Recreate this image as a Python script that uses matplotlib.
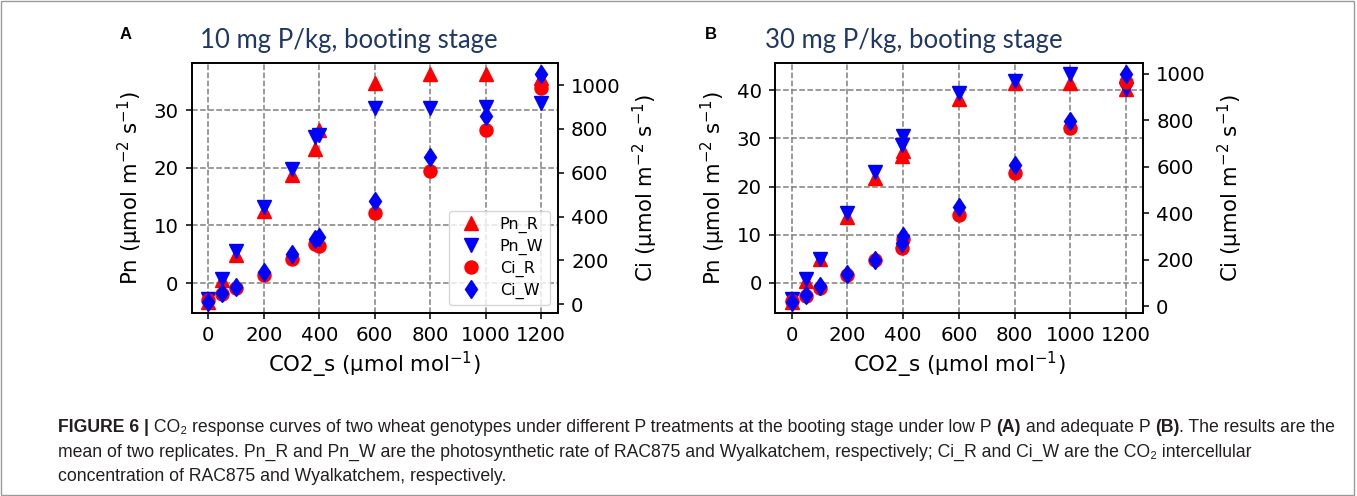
import matplotlib
matplotlib.use("Agg")
import matplotlib.pyplot as plt
from matplotlib import font_manager
from matplotlib.patches import Rectangle

# ---------------- DATA ----------------
co2_a = [0, 50, 100, 200, 300, 385, 400, 600, 800, 1000, 1200]
pn_r_a = [-3.2, 0.6, 4.8, 12.5, 18.8, 23.2, 26.5, 34.7, 36.2, 36.2, 35.5]
pn_w_a = [-2.8, 0.7, 5.5, 13.2, 19.8, 25.3, 25.7, 30.3, 30.3, 30.6, 31.2]
ci_r_a = [18, 46, 73, 134, 205, 274, 266, 418, 608, 795, 988]
ci_w_a = [12, 50, 80, 149, 228, 296, 305, 471, 673, 859, 1049]

co2_b = [0, 50, 100, 200, 300, 395, 400, 600, 800, 1000, 1200]
pn_r_b = [-3.9, 0.3, 5.0, 13.6, 21.7, 26.3, 27.3, 38.1, 41.6, 41.5, 40.2]
pn_w_b = [-3.4, 0.7, 4.9, 14.5, 23.1, 28.7, 30.5, 39.5, 42.0, 43.3, 40.3]
ci_r_b = [22, 46, 78, 136, 198, 250, 290, 392, 572, 767, 964]
ci_w_b = [20, 50, 85, 140, 200, 270, 300, 428, 608, 796, 997]

x_ticks = [0, 200, 400, 600, 800, 1000, 1200]
ci_ticks = [0, 200, 400, 600, 800, 1000]

titles = ["10 mg P/kg, booting stage", "30 mg P/kg, booting stage"]
panel_letters = ["A", "B"]

# ---------------- STYLE ----------------
FS_TICK = 14.2
FS_LABEL = 15.3
MS = 9.4
TITLE_COLOR = "#203864"
CAP_COLOR = "#231f20"

try:
    font_manager.findfont("Liberation Sans Narrow", fallback_to_default=False)
    CAP_FONT = "Liberation Sans Narrow"
except ValueError:
    CAP_FONT = "Liberation Sans"

plt.rcParams["font.family"] = ["DejaVu Sans"]
plt.rcParams["axes.linewidth"] = 1.2
plt.rcParams["xtick.major.width"] = 1.1
plt.rcParams["ytick.major.width"] = 1.1
plt.rcParams["xtick.major.size"] = 4.6
plt.rcParams["ytick.major.size"] = 4.6
plt.rcParams["xtick.major.pad"] = 4.5
plt.rcParams["ytick.major.pad"] = 5.0

fig = plt.figure(figsize=(13.57, 4.96), dpi=100)


def draw_panel(rect, co2, pn_r, pn_w, ci_r, ci_w, legend):
    ax = fig.add_axes(rect)
    ax.plot(co2, pn_r, "^", color="red", ms=MS, label="Pn_R")
    ax.plot(co2, pn_w, "v", color="blue", ms=MS, label="Pn_W")
    ax.grid(True, linestyle="--", color="gray", linewidth=1.1)
    ax.set_xticks(x_ticks)
    ax.tick_params(labelsize=FS_TICK)
    ax.set_xlabel("CO2_s (µmol mol$^{-1}$)", fontsize=FS_LABEL, labelpad=4)
    ax.set_ylabel("Pn (µmol m$^{-2}$ s$^{-1}$)", fontsize=FS_LABEL, labelpad=6)

    ax2 = ax.twinx()
    ax2.plot(co2, ci_r, "o", color="red", ms=MS, label="Ci_R")
    ax2.plot(co2, ci_w, "d", color="blue", ms=MS, label="Ci_W")
    ax2.set_yticks(ci_ticks)
    ax2.tick_params(labelsize=FS_TICK)
    ax2.set_ylabel("Ci (µmol m$^{-2}$ s$^{-1}$)", fontsize=FS_LABEL, labelpad=7)

    if legend:
        h1, l1 = ax.get_legend_handles_labels()
        h2, l2 = ax2.get_legend_handles_labels()
        ax2.legend(h1 + h2, l1 + l2, loc="lower right", fontsize=11.5, labelspacing=0.35)
    return ax


draw_panel([0.1413, 0.369, 0.2697, 0.504], co2_a, pn_r_a, pn_w_a, ci_r_a, ci_w_a, True)
draw_panel([0.5711, 0.369, 0.2711, 0.504], co2_b, pn_r_b, pn_w_b, ci_r_b, ci_w_b, False)

# titles + panel letters
for x_title, x_let, title, let in zip([0.1474, 0.5637], [0.0884, 0.5195], titles, panel_letters):
    fig.text(x_title, 0.903, title, fontsize=18.5, family="Lato", color=TITLE_COLOR, va="baseline")
    fig.text(x_let, 0.921, let, fontsize=12, family="Liberation Sans", fontweight="bold", va="baseline")

# ---------------- CAPTION ----------------
cap_lines = [
    [("FIGURE 6 |", True),
     (" CO\u2082 response curves of two wheat genotypes under different P treatments at the booting stage under low P ", False),
     ("(A)", True), (" and adequate P ", False), ("(B)", True), (". The results are the", False)],
    [("mean of two replicates. Pn_R and Pn_W are the photosynthetic rate of RAC875 and Wyalkatchem, "
      "respectively; Ci_R and Ci_W are the CO\u2082 intercellular", False)],
    [("concentration of RAC875 and Wyalkatchem, respectively.", False)],
]
cap_y = [1 - 432 / 496, 1 - 457 / 496, 1 - 481 / 496]
cap_x0 = 58 / 1357
line1_target = (1337 - 58) / 1357

renderer = fig.canvas.get_renderer()


def put_runs(x, y, runs, size):
    for txt, bold in runs:
        t = fig.text(x, y, txt, fontsize=size, family=[CAP_FONT, "DejaVu Sans"],
                     fontweight="bold" if bold else "normal", color=CAP_COLOR, va="baseline")
        bb = t.get_window_extent(renderer=renderer)
        x += bb.width / fig.bbox.width
    return x


# fit the caption size to the width of the first line
cap_size = 11
probe = put_runs(cap_x0, cap_y[0], cap_lines[0], cap_size) - cap_x0
for t in list(fig.texts)[-len(cap_lines[0]):]:
    t.remove()
cap_size = cap_size * line1_target / probe

for runs, y in zip(cap_lines, cap_y):
    put_runs(cap_x0, y, runs, cap_size)

# outer frame
fig.patches.append(Rectangle((0.001, 0.003), 0.997, 0.994, transform=fig.transFigure,
                             fill=False, edgecolor="#9a9a9a", linewidth=1))

fig.savefig("out.png", dpi=100)
